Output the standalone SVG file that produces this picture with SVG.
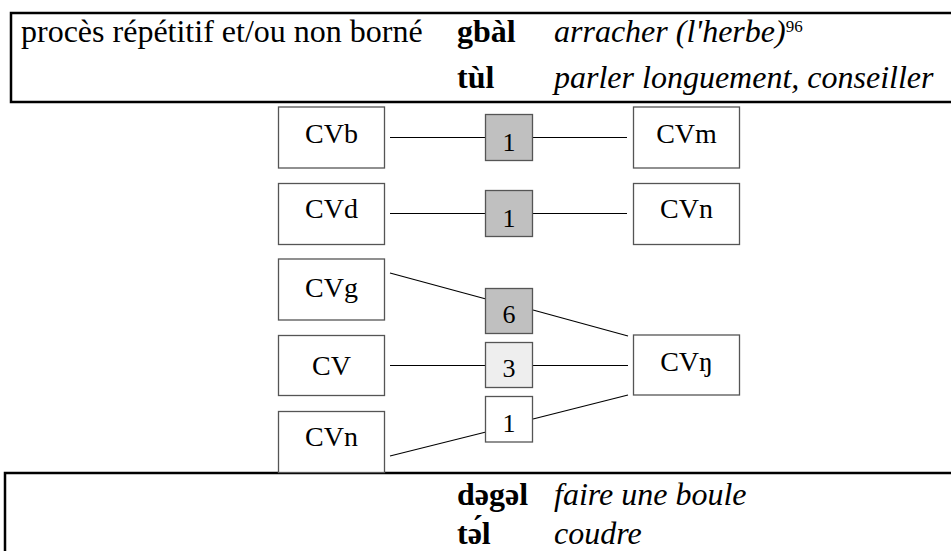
<svg xmlns="http://www.w3.org/2000/svg" width="951" height="551" viewBox="0 0 951 551">
<rect width="951" height="551" fill="#fff"/>
<g id="table-top">
<path d="M951,13 H11 V102 H951" fill="none" stroke="#000" stroke-width="2.5"/>
<text x="21" y="42" style="font-family:'Liberation Serif',serif;font-size:32px">procès répétitif et/ou non borné</text>
<text x="457" y="42" style="font-family:'Liberation Serif',serif;font-size:32px;font-weight:bold">gbàl</text>
<text x="554" y="42" style="font-family:'Liberation Serif',serif;font-size:32px;font-style:italic">arracher (l'herbe)<tspan dy="-10" style="font-size:17px;font-style:normal">96</tspan></text>
<text x="457" y="88" style="font-family:'Liberation Serif',serif;font-size:32px;font-weight:bold">tùl</text>
<text x="554" y="88" style="font-family:'Liberation Serif',serif;font-size:32px;font-style:italic">parler longuement, conseiller</text>
</g>
<g id="table-bottom">
<path d="M951,473 H5 V551" fill="none" stroke="#000" stroke-width="2.5"/>
<text x="457" y="505" style="font-family:'Liberation Serif',serif;font-size:32px;font-weight:bold">dəgəl</text>
<text x="554" y="505" style="font-family:'Liberation Serif',serif;font-size:32px;font-style:italic">faire une boule</text>
<text x="457" y="544" style="font-family:'Liberation Serif',serif;font-size:32px;font-weight:bold">tə́l</text>
<text x="554" y="544" style="font-family:'Liberation Serif',serif;font-size:32px;font-style:italic">coudre</text>
</g>
<g id="connectors" stroke="#000" stroke-width="1.2">
<line x1="390" y1="137.5" x2="485" y2="137.5"/>
<line x1="533" y1="137.5" x2="627" y2="137.5"/>
<line x1="390" y1="213.5" x2="485" y2="213.5"/>
<line x1="533" y1="213.5" x2="627" y2="213.5"/>
<line x1="390" y1="273" x2="486" y2="299"/>
<line x1="533" y1="310" x2="628" y2="336"/>
<line x1="390" y1="365.5" x2="485" y2="365.5"/>
<line x1="533" y1="365.5" x2="628" y2="365.5"/>
<line x1="390" y1="456" x2="486" y2="432"/>
<line x1="533" y1="419" x2="628" y2="395"/>
</g>
<g id="node-CVb"><rect x="278.5" y="107" width="106" height="61" fill="#fff" stroke="#555" stroke-width="1.3"/><text x="331.5" y="143" text-anchor="middle" style="font-family:'Liberation Serif',serif;font-size:28px">CVb</text></g>
<g id="node-CVd"><rect x="278.5" y="183.5" width="106" height="61" fill="#fff" stroke="#555" stroke-width="1.3"/><text x="331.5" y="218" text-anchor="middle" style="font-family:'Liberation Serif',serif;font-size:28px">CVd</text></g>
<g id="node-CVg"><rect x="278.5" y="259" width="106" height="61" fill="#fff" stroke="#555" stroke-width="1.3"/><text x="331.5" y="297" text-anchor="middle" style="font-family:'Liberation Serif',serif;font-size:28px">CVg</text></g>
<g id="node-CV"><rect x="278.5" y="335.5" width="106" height="60" fill="#fff" stroke="#555" stroke-width="1.3"/><text x="331.5" y="375" text-anchor="middle" style="font-family:'Liberation Serif',serif;font-size:28px">CV</text></g>
<g id="node-CVn2"><rect x="278.5" y="411.5" width="106" height="61" fill="#fff" stroke="#555" stroke-width="1.3"/><text x="331.5" y="446" text-anchor="middle" style="font-family:'Liberation Serif',serif;font-size:28px">CVn</text></g>
<g id="node-CVm"><rect x="633.5" y="107" width="106" height="61" fill="#fff" stroke="#555" stroke-width="1.3"/><text x="686.5" y="143" text-anchor="middle" style="font-family:'Liberation Serif',serif;font-size:28px">CVm</text></g>
<g id="node-CVn"><rect x="633.5" y="183.5" width="106" height="61" fill="#fff" stroke="#555" stroke-width="1.3"/><text x="686.5" y="218" text-anchor="middle" style="font-family:'Liberation Serif',serif;font-size:28px">CVn</text></g>
<g id="node-CVng"><rect x="633.5" y="335" width="106" height="60" fill="#fff" stroke="#555" stroke-width="1.3"/><text x="686.5" y="371" text-anchor="middle" style="font-family:'Liberation Serif',serif;font-size:28px">CVŋ</text></g>
<g id="count-b-m"><rect x="485.5" y="114.5" width="47" height="46" fill="#c0c0c0" stroke="#555" stroke-width="1.3"/><text x="509" y="151" text-anchor="middle" style="font-family:'Liberation Serif',serif;font-size:26px">1</text></g>
<g id="count-d-n"><rect x="485.5" y="190.5" width="47" height="46" fill="#c0c0c0" stroke="#555" stroke-width="1.3"/><text x="509" y="227" text-anchor="middle" style="font-family:'Liberation Serif',serif;font-size:26px">1</text></g>
<g id="count-g-ng"><rect x="485.5" y="288.5" width="47" height="45" fill="#c0c0c0" stroke="#555" stroke-width="1.3"/><text x="509" y="323" text-anchor="middle" style="font-family:'Liberation Serif',serif;font-size:26px">6</text></g>
<g id="count-0-ng"><rect x="485.5" y="342.5" width="47" height="45" fill="#eeeeee" stroke="#555" stroke-width="1.3"/><text x="509" y="377" text-anchor="middle" style="font-family:'Liberation Serif',serif;font-size:26px">3</text></g>
<g id="count-n-ng"><rect x="485.5" y="396.5" width="47" height="45.5" fill="#fff" stroke="#555" stroke-width="1.3"/><text x="509" y="431.5" text-anchor="middle" style="font-family:'Liberation Serif',serif;font-size:26px">1</text></g>
</svg>
